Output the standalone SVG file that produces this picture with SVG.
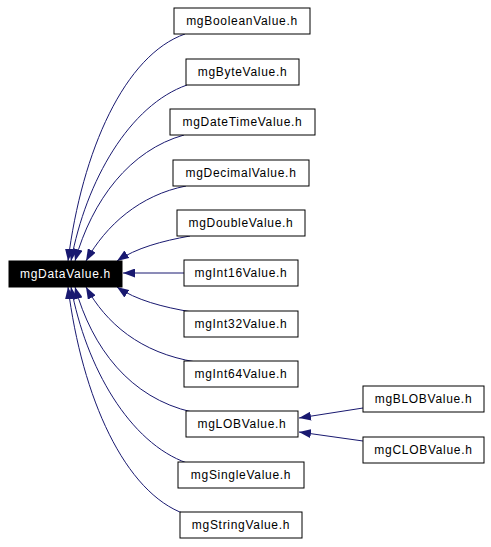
<svg xmlns="http://www.w3.org/2000/svg" width="491" height="547" viewBox="0 0 491 547">
<style>
.n rect{fill:#fff;stroke:#000;stroke-width:1}
.n text{font-family:"Liberation Sans",Arial,sans-serif;font-size:12px;letter-spacing:0.7px;text-anchor:middle;fill:#000}
#main rect{fill:#000}
#main text{fill:#fff}
.e path{fill:none;stroke:#191970;stroke-width:1;marker-end:url(#ah)}
</style>
<defs>
<marker id="ah" viewBox="0 0 12 9" refX="12" refY="4.5" markerWidth="12" markerHeight="9" markerUnits="userSpaceOnUse" orient="auto">
<path d="M0,0 L12,4.5 L0,9 z" fill="#191970"/>
</marker>
</defs>
<rect width="491" height="547" fill="#fff"/>
<g class="e" id="edges">
<path d="M185,34 C125,55 82,150 68,261"/>
<path d="M187,85 C130,105 86,180 71,261"/>
<path d="M184,135 C130,150 92,200 75,261"/>
<path d="M186,186 C140,195 106,225 86,261"/>
<path d="M190,236 C162,241 136,248 117,261"/>
<path d="M184,273 L123,273"/>
<path d="M192,312 C162,307 136,300 117,287"/>
<path d="M196,362 C140,353 106,323 86,287"/>
<path d="M192,412 C130,398 92,348 75,287"/>
<path d="M187,463 C130,443 86,368 71,287"/>
<path d="M185,514 C125,493 82,398 68,287"/>
<path d="M363,408 L299,418"/>
<path d="M363,441 L299,432"/>
</g>
<g class="n" id="main"><rect x="9" y="261" width="113" height="26"/><text x="65.5" y="278">mgDataValue.h</text></g>
<g class="n" id="n_boolean"><rect x="174" y="8" width="136" height="26"/><text x="242" y="25">mgBooleanValue.h</text></g>
<g class="n" id="n_byte"><rect x="186" y="59" width="113" height="26"/><text x="242.5" y="76">mgByteValue.h</text></g>
<g class="n" id="n_datetime"><rect x="170" y="109" width="145" height="26"/><text x="242.5" y="126">mgDateTimeValue.h</text></g>
<g class="n" id="n_decimal"><rect x="173" y="160" width="136" height="26"/><text x="241" y="177">mgDecimalValue.h</text></g>
<g class="n" id="n_double"><rect x="177" y="210" width="128" height="26"/><text x="241" y="227">mgDoubleValue.h</text></g>
<g class="n" id="n_int16"><rect x="184" y="260" width="114" height="26"/><text x="241" y="277">mgInt16Value.h</text></g>
<g class="n" id="n_int32"><rect x="184" y="311" width="114" height="26"/><text x="241" y="328">mgInt32Value.h</text></g>
<g class="n" id="n_int64"><rect x="184" y="361" width="114" height="26"/><text x="241" y="378">mgInt64Value.h</text></g>
<g class="n" id="n_lob"><rect x="186" y="411" width="112" height="26"/><text x="242" y="428">mgLOBValue.h</text></g>
<g class="n" id="n_single"><rect x="178" y="462" width="126" height="26"/><text x="241" y="479">mgSingleValue.h</text></g>
<g class="n" id="n_string"><rect x="180" y="512" width="122" height="26"/><text x="241" y="529">mgStringValue.h</text></g>
<g class="n" id="n_blob"><rect x="363" y="386" width="121" height="26"/><text x="423.5" y="403">mgBLOBValue.h</text></g>
<g class="n" id="n_clob"><rect x="363" y="437" width="121" height="26"/><text x="423.5" y="454">mgCLOBValue.h</text></g>
</svg>
